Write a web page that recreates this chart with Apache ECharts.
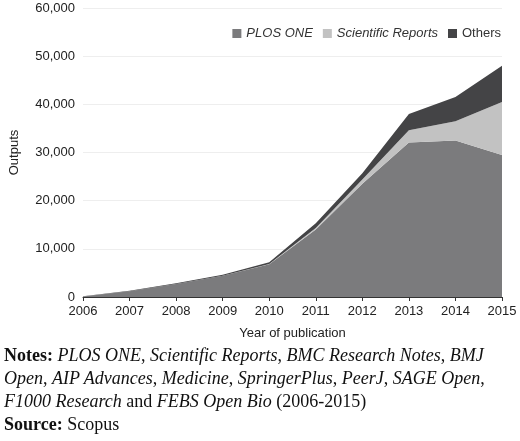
<!DOCTYPE html><html><head><meta charset="utf-8">
<script src="https://cdn.jsdelivr.net/npm/echarts@6/dist/echarts.min.js"></script>
<style>body{margin:0;background:#fff}#c{width:520px;height:345px}
#n{position:absolute;left:4px;top:344px;width:516px;font-family:"Liberation Serif",serif;font-size:18px;line-height:23px;color:#111;white-space:nowrap}</style></head><body>
<div id="c"></div>
<div id="n"><b>Notes:</b> <i>PLOS ONE</i>, <i>Scientific Reports</i>, <i>BMC Research Notes</i>, <i>BMJ</i><br><i>Open</i>, <i>AIP Advances</i>, <i>Medicine</i>, <i>SpringerPlus</i>, <i>PeerJ</i>, <i>SAGE Open</i>,<br><i>F1000 Research</i> and <i>FEBS Open Bio</i> (2006-2015)<br><b>Source:</b> Scopus</div>
<script>
const years=['2006','2007','2008','2009','2010','2011','2012','2013','2014','2015'];
const plosOne=[100,1200,2700,4400,6800,14000,23500,32100,32500,29500];
const sciReports=[0,0,0,0,50,300,900,2500,4000,11000];
const others=[50,100,150,200,350,1000,1300,3400,5000,7500];
const c=echarts.init(document.getElementById('c'));
const mk=(name,data,color)=>({name,type:'line',stack:'a',data,symbol:'none',lineStyle:{width:0},areaStyle:{color,opacity:1},itemStyle:{color}});
c.setOption({animation:false,
legend:{top:22,right:14,itemWidth:9,itemHeight:9,itemGap:10,icon:'rect',textStyle:{fontFamily:'Liberation Sans',fontSize:13,color:'#333'},
 data:[{name:'PLOS ONE',textStyle:{fontStyle:'italic'}},{name:'Scientific Reports',textStyle:{fontStyle:'italic'}},{name:'Others'}]},
grid:{left:75,right:18,top:8,bottom:44},
xAxis:{type:'category',boundaryGap:false,data:years,name:'Year of publication',nameLocation:'middle',nameGap:30,
 nameTextStyle:{fontFamily:'Liberation Sans',fontSize:13,color:'#222'},
 axisLine:{lineStyle:{color:'#333'}},axisTick:{show:true,length:4,lineStyle:{color:'#333'}},axisLabel:{fontFamily:'Liberation Sans',fontSize:13,color:'#222',margin:8}},
yAxis:{type:'value',min:0,max:60000,interval:10000,name:'Outputs',nameLocation:'middle',nameGap:62,
 nameTextStyle:{fontFamily:'Liberation Sans',fontSize:13,color:'#222'},
 axisLabel:{fontFamily:'Liberation Sans',fontSize:13,color:'#222',formatter:v=>v.toLocaleString('en-US')},
 axisLine:{show:false},axisTick:{show:false},splitLine:{lineStyle:{color:'#eee'}}},
series:[mk('PLOS ONE',plosOne,'#7b7b7d'),mk('Scientific Reports',sciReports,'#c2c2c2'),mk('Others',others,'#444446')]});
</script></body></html>
